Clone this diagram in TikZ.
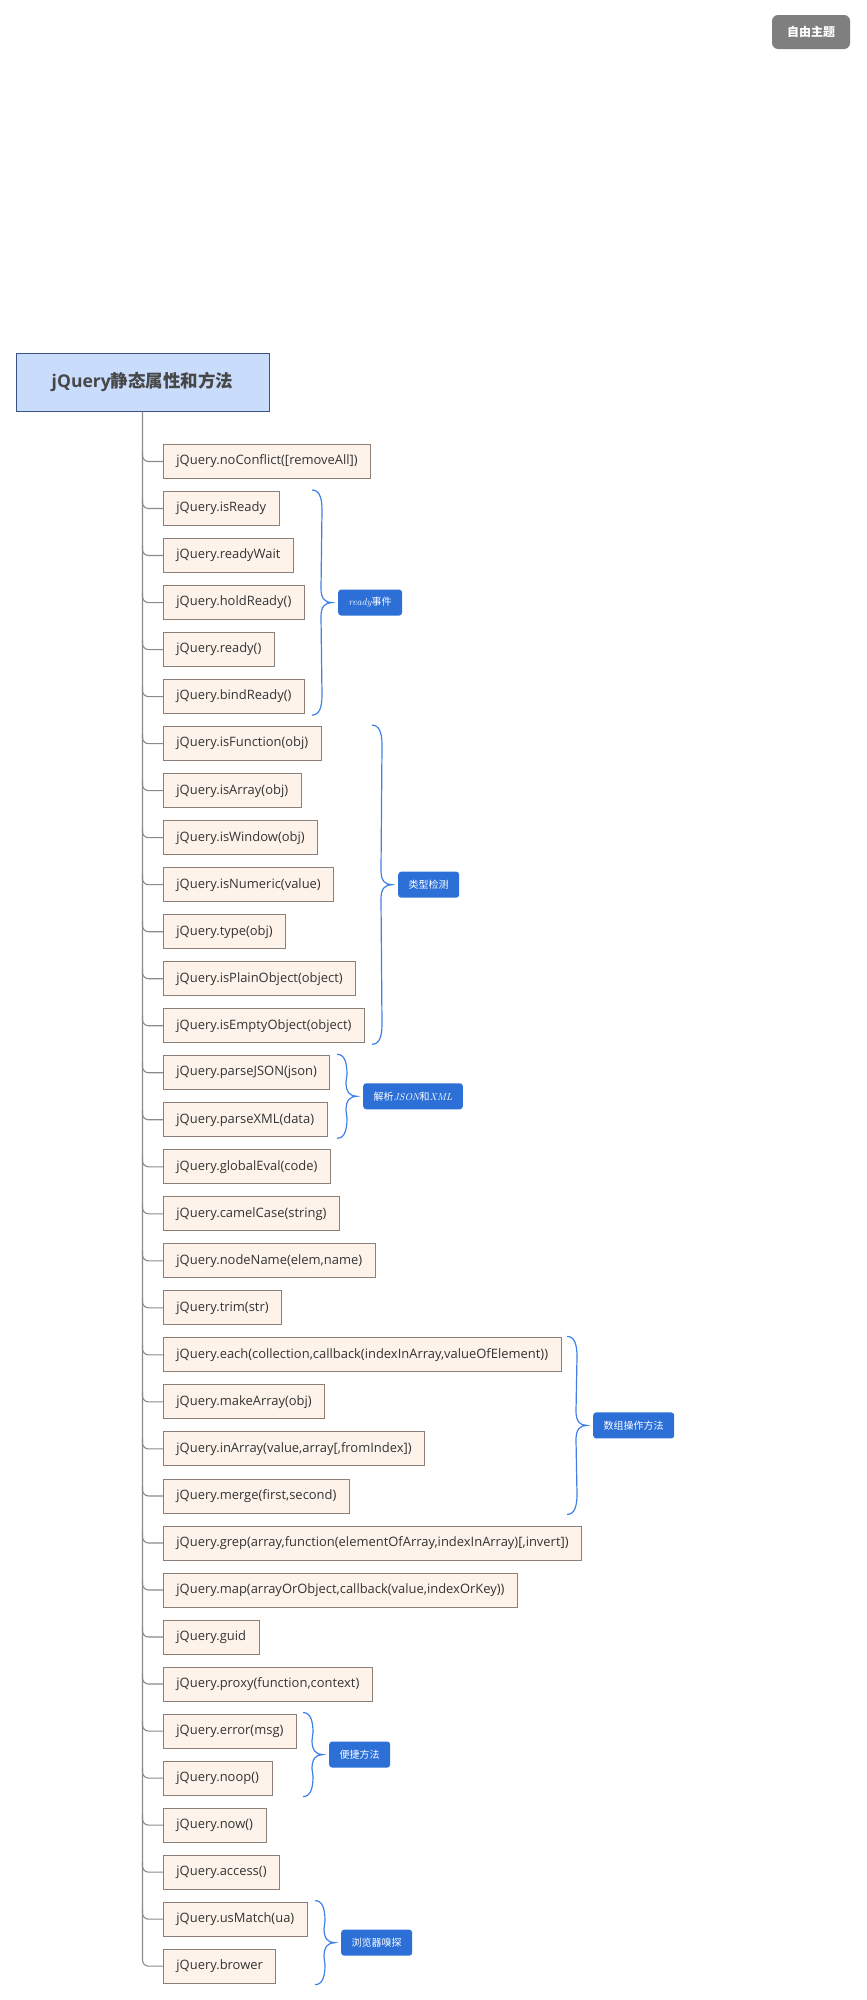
\documentclass[tikz,border=0pt]{standalone}
\usepackage{fontspec}
\setmainfont{Open Sans}
\newfontfamily\cjk{Noto Sans CJK SC}
\newcommand\lmit[1]{{\fontfamily{lmr}\itshape #1}}
\usetikzlibrary{calc}
\definecolor{childfill}{HTML}{FDF3EA}
\definecolor{childdraw}{HTML}{8B7F77}
\definecolor{textc}{HTML}{333333}
\definecolor{connc}{HTML}{8A8A8A}
\definecolor{rootfill}{HTML}{C9DCFB}
\definecolor{rootdraw}{HTML}{3A5385}
\definecolor{labc}{HTML}{2B6FD7}
\definecolor{bracec}{HTML}{3F80E6}
\definecolor{topicc}{HTML}{7F7F7F}
\newcommand\curlyb[5]{%
  \pgfmathsetmacro\cbt{461.5+47.02*#2-18.5}%
  \pgfmathsetmacro\cbb{461.5+47.02*#3+18.5}%
  \pgfmathsetmacro\cbm{(\cbt+\cbb)/2}%
  \node[lab] (#4) at (#1+26,\cbm) {#5};
  \draw[brc] (#1,\cbt) .. controls (#1+7,\cbt) and (#1+10,\cbt+7) .. (#1+10,\cbt+20)
    -- (#1+9,\cbm-14) .. controls (#1+9,\cbm-4) and (#1+13,\cbm) .. ($(#4.west)+(-6,0)$)
    .. controls (#1+13,\cbm) and (#1+9,\cbm+4) .. (#1+9,\cbm+14)
    -- (#1+10,\cbb-20) .. controls (#1+10,\cbb-7) and (#1+7,\cbb) .. (#1,\cbb);
}
\begin{document}
\begin{tikzpicture}[x=1pt,y=-1pt,
  childbox/.style={draw=childdraw, fill=childfill, line width=0.9pt, anchor=west,
    minimum height=34, inner xsep=13, inner ysep=0, text=textc,
    font=\fontsize{12.95}{15}\selectfont},
  rootbox/.style={draw=rootdraw, fill=rootfill, line width=1pt, minimum width=253,
    minimum height=58, text=black!72, font=\fontsize{17.5}{20}\selectfont\bfseries},
  topicbox/.style={fill=topicc, rounded corners=6, minimum width=78, minimum height=34,
    text=white, font=\cjk\fontsize{12}{14}\selectfont\bfseries},
  lab/.style={fill=labc, rounded corners=3, minimum height=26, inner xsep=10.5,
    inner ysep=0, text=white, anchor=west, font=\cjk\fontsize{10}{12}\selectfont},
  conn/.style={draw=connc, line width=1.1pt, rounded corners=6},
  brc/.style={draw=bracec, line width=1.2pt}]
\useasboundingbox (0,0) rectangle (867,2000);
\node[topicbox] (topic) at (811,32) {自由主题};
\node[rootbox] (root) at (142.5,382) {jQuery{\cjk 静态属性和方法}};
\foreach \i/\t in {
  0/{jQuery.noConflict([removeAll])},
  1/{jQuery.isReady},
  2/{jQuery.readyWait},
  3/{jQuery.holdReady()},
  4/{jQuery.ready()},
  5/{jQuery.bindReady()},
  6/{jQuery.isFunction(obj)},
  7/{jQuery.isArray(obj)},
  8/{jQuery.isWindow(obj)},
  9/{jQuery.isNumeric(value)},
  10/{jQuery.type(obj)},
  11/{jQuery.isPlainObject(object)},
  12/{jQuery.isEmptyObject(object)},
  13/{jQuery.parseJSON(json)},
  14/{jQuery.parseXML(data)},
  15/{jQuery.globalEval(code)},
  16/{jQuery.camelCase(string)},
  17/{jQuery.nodeName(elem,name)},
  18/{jQuery.trim(str)},
  19/{jQuery.each(collection,callback(indexInArray,valueOfElement))},
  20/{jQuery.makeArray(obj)},
  21/{jQuery.inArray(value,array[,fromIndex])},
  22/{jQuery.merge(first,second)},
  23/{jQuery.grep(array,function(elementOfArray,indexInArray)[,invert])},
  24/{jQuery.map(arrayOrObject,callback(value,indexOrKey))},
  25/{jQuery.guid},
  26/{jQuery.proxy(function,context)},
  27/{jQuery.error(msg)},
  28/{jQuery.noop()},
  29/{jQuery.now()},
  30/{jQuery.access()},
  31/{jQuery.usMatch(ua)},
  32/{jQuery.brower}}{
  \node[childbox] (c\i) at (163,{461.5+47.02*\i}) {\t};
}
\draw[conn] (root.south) |- (c32.west);
\foreach \i in {0,...,31}{
  \draw[conn] ($(root.south |- c\i.west)+(0,-10)$) |- (c\i.west);
}
\curlyb{312}{1}{5}{gready}{\lmit{ready}事件}
\curlyb{372}{6}{12}{gtype}{类型检测}
\curlyb{337}{13}{14}{gparse}{解析\lmit{JSON}和\lmit{XML}}
\curlyb{567}{19}{22}{garray}{数组操作方法}
\curlyb{303}{27}{28}{gquick}{便捷方法}
\curlyb{315}{31}{32}{gbrowser}{浏览器嗅探}
\end{tikzpicture}
\end{document}
